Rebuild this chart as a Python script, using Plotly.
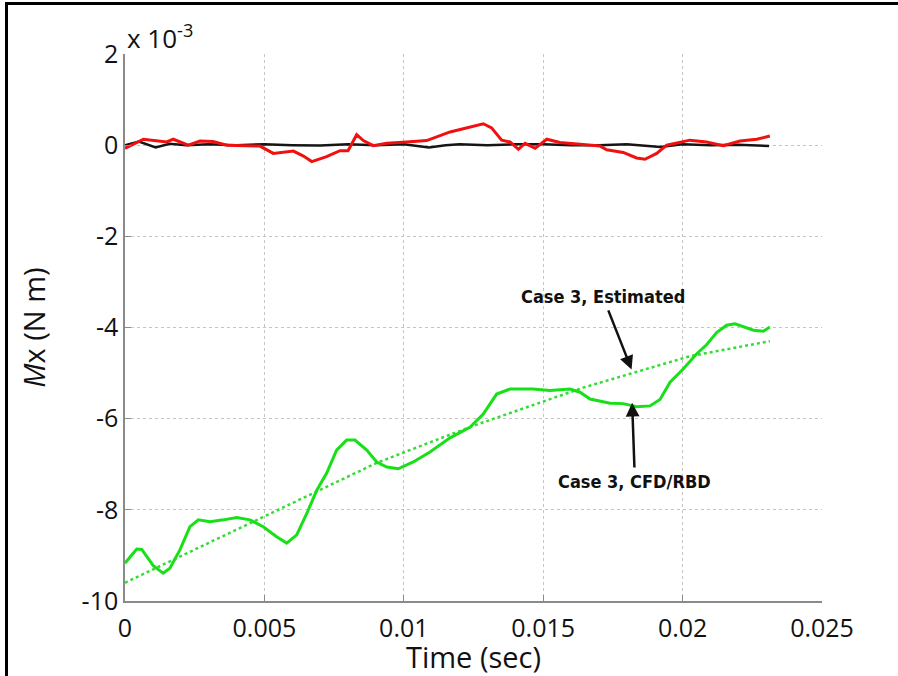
import plotly.graph_objects as go

# Time samples (s) and roll moment values (units of 1e-3 N m)
t_cfd = [0, 0.00042, 0.0006, 0.00102, 0.00137, 0.00161, 0.00197, 0.00233, 0.00263, 0.00305,
         0.00353, 0.00401, 0.00448, 0.00496, 0.00544, 0.0058, 0.00616, 0.00652, 0.00688, 0.00723,
         0.00759, 0.00795, 0.00825, 0.00867, 0.00903, 0.00939, 0.0098, 0.01034, 0.01094, 0.01166,
         0.01237, 0.01285, 0.01333, 0.01381, 0.01463, 0.01524, 0.01596, 0.01632, 0.01668, 0.0174,
         0.01787, 0.01835, 0.01883, 0.01919, 0.01955, 0.02002, 0.0205, 0.02086, 0.02122, 0.02158,
         0.02188, 0.02218, 0.02254, 0.0229, 0.02313]
mx_cfd = [-9.17, -8.86, -8.87, -9.23, -9.39, -9.28, -8.88, -8.37, -8.22, -8.26,
          -8.22, -8.17, -8.22, -8.37, -8.59, -8.73, -8.55, -8.08, -7.57, -7.2,
          -6.69, -6.47, -6.47, -6.69, -6.95, -7.06, -7.1, -6.95, -6.73, -6.42,
          -6.19, -5.9, -5.46, -5.35, -5.35, -5.38, -5.35, -5.42, -5.57, -5.66,
          -5.67, -5.74, -5.72, -5.58, -5.2, -4.91, -4.58, -4.38, -4.11, -3.95,
          -3.92, -3.99, -4.06, -4.08, -3.99]

t_est = [0, 0.00544, 0.00692, 0.00903, 0.01166, 0.01262, 0.01643, 0.01817, 0.02026, 0.02313]
mx_est = [-9.60, -8.02, -7.60, -6.97, -6.35, -6.13, -5.32, -5.01, -4.63, -4.30]

t_red = [0, 0.00066, 0.0015, 0.00173, 0.00227, 0.00269, 0.00316, 0.00365, 0.00484, 0.00532,
         0.00604, 0.0064, 0.0067, 0.00723, 0.00771, 0.008, 0.00831, 0.00855, 0.0089, 0.00939,
         0.0101, 0.01082, 0.01166, 0.01226, 0.01285, 0.01315, 0.01351, 0.01381, 0.01411, 0.01435,
         0.01471, 0.01513, 0.0156, 0.01632, 0.01704, 0.01728, 0.01787, 0.01835, 0.01865, 0.01907,
         0.01943, 0.02026, 0.02086, 0.02146, 0.02206, 0.02266, 0.02313]
mx_red = [-0.07, 0.13, 0.07, 0.13, 0.0, 0.09, 0.08, 0.0, -0.02, -0.18,
          -0.13, -0.24, -0.36, -0.25, -0.12, -0.12, 0.23, 0.1, -0.01, 0.04,
          0.07, 0.1, 0.29, 0.38, 0.47, 0.38, 0.11, 0.07, -0.09, 0.04,
          -0.07, 0.13, 0.06, 0.02, -0.02, -0.1, -0.16, -0.28, -0.31, -0.18,
          0.0, 0.11, 0.07, -0.01, 0.09, 0.13, 0.2]

t_blk = [0, 0.0005, 0.0011, 0.0016, 0.0022, 0.003, 0.004, 0.005, 0.006, 0.007,
         0.008, 0.009, 0.01, 0.0109, 0.0115, 0.012, 0.013, 0.014, 0.015, 0.016,
         0.017, 0.018, 0.0192, 0.02, 0.021, 0.022, 0.0231]
mx_blk = [0.0, 0.08, -0.05, 0.03, 0.0, 0.02, 0.0, 0.02, 0.0, -0.01,
          0.02, 0.0, 0.02, -0.05, 0.0, 0.02, 0.0, 0.02, 0.02, 0.0,
          0.0, 0.02, -0.04, 0.02, 0.0, 0.01, -0.02]

x_ticks = [0, 0.005, 0.01, 0.015, 0.02, 0.025]
x_tick_text = ["0", "0.005", "0.01", "0.015", "0.02", "0.025"]
y_ticks = [-10, -8, -6, -4, -2, 0, 2]

W, H = 898, 676
ML, MR, MT, MB = 125, 76, 54, 75

TICK_FONT = "Open Sans, DejaVu Sans, sans-serif"
NOTE_FONT = "DejaVu Sans Condensed, DejaVu Sans, sans-serif"

fig = go.Figure()
fig.add_trace(go.Scatter(x=t_blk, y=mx_blk, mode="lines",
                         line=dict(color="#151515", width=2.5), showlegend=False))
fig.add_trace(go.Scatter(x=t_red, y=mx_red, mode="lines",
                         line=dict(color="#f01010", width=3), showlegend=False))
fig.add_trace(go.Scatter(x=t_est, y=mx_est, mode="lines",
                         line=dict(color="#33dd33", width=2.5, dash="dot"), showlegend=False))
fig.add_trace(go.Scatter(x=t_cfd, y=mx_cfd, mode="lines",
                         line=dict(color="#18e018", width=3), showlegend=False))

axis_common = dict(
    showgrid=True, gridcolor="#c4c4c4", griddash="dot", gridwidth=1,
    showline=True, linecolor="#8a8a8a", linewidth=1.5,
    ticks="inside", ticklen=6, tickcolor="#8a8a8a", tickwidth=1,
    zeroline=False,
    tickfont=dict(family=TICK_FONT, size=25, color="#111"),
)

fig.update_xaxes(range=[0, 0.025], tickvals=x_ticks, ticktext=x_tick_text,
                 ticklabelstandoff=4,
                 title=dict(text="Time (sec)", font=dict(family=TICK_FONT, size=29, color="#111"),
                            standoff=0),
                 **axis_common)
fig.update_yaxes(range=[-10, 2], tickvals=y_ticks, ticktext=[str(v) for v in y_ticks],
                 title=dict(text="<i>M</i>x (N m)", font=dict(family=TICK_FONT, size=29, color="#111"),
                            standoff=27),
                 **axis_common)

# Labels with arrows pointing at the two green curves
note_font = dict(family=NOTE_FONT, size=18, color="#111")
labelled_arrow = dict(showarrow=True, arrowhead=2, arrowsize=1.1, arrowwidth=2.5,
                      arrowcolor="#111", xref="x", yref="y", axref="x", ayref="y",
                      font=note_font, standoff=0, startstandoff=2)
fig.add_annotation(x=0.01817, y=-4.92, ax=0.01714, ay=-3.32,
                   text="<b>Case 3, Estimated</b>", **labelled_arrow)
fig.add_annotation(x=0.01819, y=-5.65, ax=0.01829, ay=-7.38,
                   text="<b>Case 3, CFD/RBD</b>", **labelled_arrow)

# Axis exponent label
fig.add_annotation(x=0, y=1, xref="paper", yref="paper", xanchor="left", yanchor="bottom",
                   text="x 10<sup>-3</sup>", showarrow=False, yshift=-4,
                   font=dict(family=TICK_FONT, size=26, color="#111"))

fig.update_layout(
    width=W, height=H,
    margin=dict(l=ML, r=MR, t=MT, b=MB),
    paper_bgcolor="white", plot_bgcolor="white",
    showlegend=False,
)

# Black frame along the left and top edges of the figure
frame_js = """
var gd = document.getElementById('{plot_id}');
var holder = gd.parentNode;
holder.style.position = 'relative';
var fr = document.createElement('div');
fr.style.cssText = 'position:absolute;left:5px;top:2px;right:0;bottom:-4px;' +
    'border-left:3px solid #000;border-top:3px solid #000;pointer-events:none;';
holder.appendChild(fr);
"""

fig.write_html("out.html", post_script=frame_js)
